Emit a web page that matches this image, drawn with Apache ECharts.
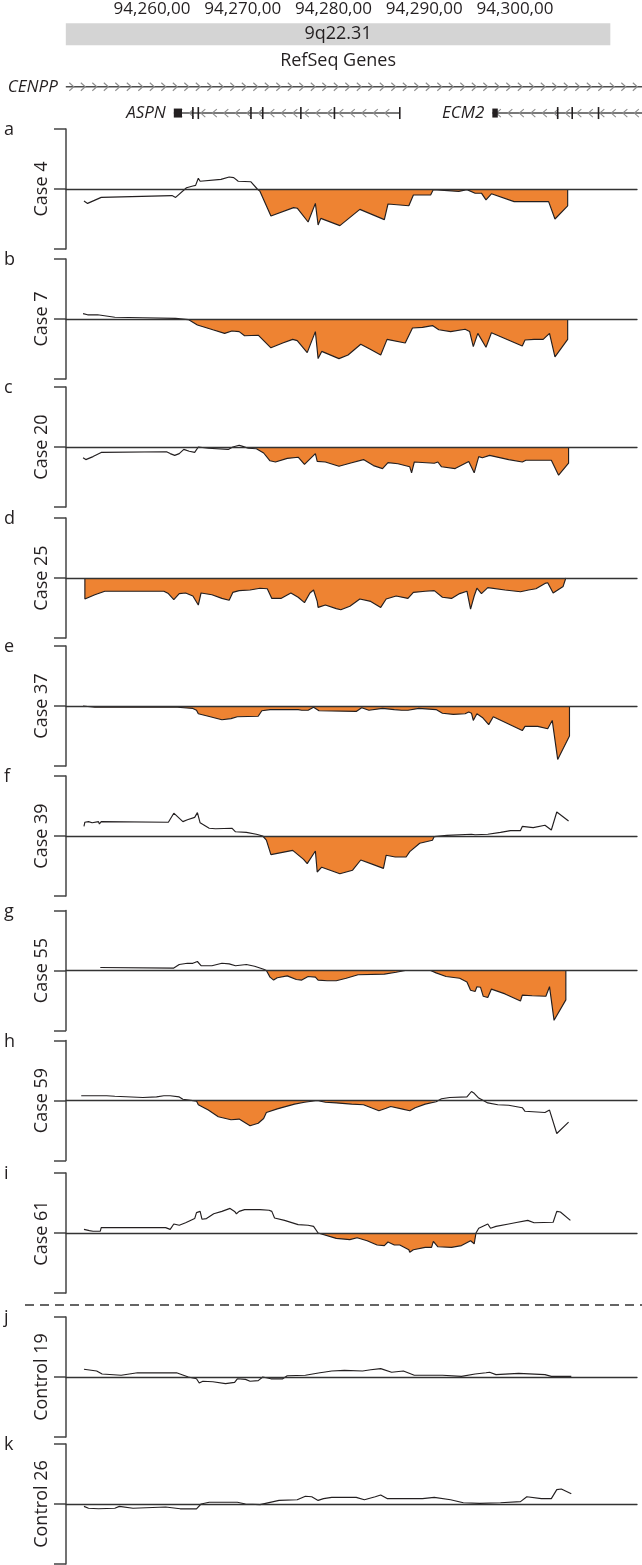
<!DOCTYPE html>
<html><head><meta charset="utf-8">
<script src="https://cdn.jsdelivr.net/npm/echarts@6/dist/echarts.min.js"></script>
<style>html,body{margin:0;padding:0;background:#fff}#c{width:642px;height:1565px}</style>
</head><body><div id="c"></div>
<script>
// ---------- axis / ticks ----------
const X_MIN = 94250.52, X_MAX = 94313.44;           // kb
const tickValues = [94260, 94270, 94280, 94290, 94300];
const tickLabels = ['94,260,00', '94,270,00', '94,280,00', '94,290,00', '94,300,00'];

// ---------- ideogram band + gene track ----------
const bandName = '9q22.31';
const bandRange = [94250.5, 94310.5];
const trackTitle = 'RefSeq Genes';
const trackRows = ['band', 'title', 'CENPP', 'ASPN/ECM2'];
const geneNames = ['CENPP', 'ASPN', 'ECM2'];
const geneStarts = [94250.5, 94262.4, 94297.5];
const geneEnds = [94314.0, 94287.3, 94314.0];
const geneStrands = ['+', '-', '-'];
const geneRows = [2, 3, 3];
const geneFirstExon = [null, [94262.4, 94263.3], [94297.5, 94298.1]];
const geneExonMarks = [[], [94264.5, 94265.1, 94270.9, 94272.2, 94276.4, 94280.1, 94287.3], [94304.7, 94306.3, 94309.2]];

// ---------- panels ----------
const panelLetters = ['a','b','c','d','e','f','g','h','i','j','k'];
const panelNames = ['Case 4','Case 7','Case 20','Case 25','Case 37','Case 39','Case 55','Case 59','Case 61','Control 19','Control 26'];

const case4 = [[94252.5,-0.20],[94252.9,-0.24],[94254.4,-0.14],[94262.2,-0.11],[94262.6,-0.14],[94263.8,0.02],[94264.5,0.05],[94264.8,0.06],[94265.1,0.18],[94265.3,0.13],[94267.6,0.16],[94268.5,0.20],[94269.0,0.19],[94269.5,0.13],[94270.9,0.12],[94271.6,0.0],[94271.9,-0.04],[94273.1,-0.45],[94275.6,-0.31],[94276.0,-0.32],[94277.2,-0.55],[94278.0,-0.24],[94278.3,-0.60],[94278.6,-0.49],[94280.7,-0.61],[94282.9,-0.34],[94285.6,-0.51],[94286.0,-0.25],[94288.3,-0.28],[94288.8,-0.10],[94290.7,-0.10],[94291.0,-0.01],[94293.8,-0.04],[94294.7,-0.01],[94295.6,-0.07],[94296.3,-0.07],[94296.8,-0.18],[94297.4,-0.08],[94299.9,-0.21],[94303.7,-0.21],[94304.4,-0.50],[94305.8,-0.28],[94305.8,0]];
const case7 = [[94252.4,0.09],[94252.9,0.07],[94254.0,0.07],[94255.9,0.03],[94259.0,0.02],[94262.6,0.01],[94264.0,-0.01],[94265.0,-0.10],[94266.7,-0.18],[94268.0,-0.24],[94268.8,-0.20],[94269.6,-0.21],[94270.2,-0.28],[94271.7,-0.27],[94273.1,-0.48],[94274.4,-0.40],[94275.5,-0.34],[94276.0,-0.36],[94277.1,-0.56],[94278.0,-0.21],[94278.3,-0.66],[94278.7,-0.54],[94280.6,-0.66],[94281.6,-0.60],[94283.0,-0.42],[94284.1,-0.51],[94285.2,-0.60],[94285.9,-0.34],[94287.9,-0.40],[94288.7,-0.15],[94289.8,-0.14],[94290.9,-0.11],[94291.6,-0.18],[94292.9,-0.21],[94294.5,-0.17],[94295.0,-0.21],[94295.4,-0.46],[94295.9,-0.24],[94296.8,-0.47],[94297.4,-0.23],[94300.8,-0.45],[94301.1,-0.35],[94302.1,-0.34],[94303.1,-0.34],[94303.8,-0.24],[94304.4,-0.63],[94305.8,-0.34],[94305.8,0]];
const case20 = [[94252.4,-0.18],[94252.7,-0.21],[94253.5,-0.16],[94254.4,-0.09],[94261.6,-0.08],[94262.0,-0.11],[94262.5,-0.14],[94263.0,-0.11],[94263.5,-0.04],[94264.1,-0.07],[94264.7,-0.09],[94265.1,0],[94266.2,-0.02],[94268.4,-0.04],[94268.9,0],[94269.6,0.03],[94270.0,0.01],[94270.6,-0.02],[94271.5,-0.03],[94272.3,-0.10],[94273.0,-0.23],[94273.6,-0.25],[94274.9,-0.19],[94276.1,-0.17],[94276.8,-0.29],[94278.0,-0.11],[94278.2,-0.24],[94279.1,-0.25],[94280.6,-0.32],[94281.8,-0.27],[94283.3,-0.21],[94284.4,-0.31],[94285.4,-0.36],[94286.0,-0.26],[94287.1,-0.28],[94288.4,-0.33],[94288.6,-0.43],[94288.9,-0.25],[94291.1,-0.27],[94291.5,-0.25],[94291.9,-0.33],[94293.4,-0.36],[94294.9,-0.24],[94295.5,-0.43],[94296.0,-0.16],[94296.4,-0.18],[94297.2,-0.14],[94299.3,-0.21],[94300.8,-0.25],[94301.2,-0.22],[94304.0,-0.22],[94304.8,-0.47],[94305.9,-0.27],[94305.9,0]];
const case25 = [[94252.6,0],[94252.6,-0.35],[94253.7,-0.28],[94254.8,-0.22],[94261.3,-0.22],[94261.8,-0.26],[94262.4,-0.36],[94263.0,-0.26],[94263.7,-0.25],[94264.5,-0.30],[94265.1,-0.45],[94265.4,-0.25],[94266.6,-0.28],[94267.7,-0.34],[94268.5,-0.37],[94268.9,-0.24],[94269.6,-0.21],[94270.8,-0.20],[94271.9,-0.17],[94272.7,-0.18],[94273.2,-0.34],[94274.2,-0.34],[94275.3,-0.25],[94276.1,-0.32],[94276.8,-0.41],[94277.4,-0.25],[94277.8,-0.20],[94278.2,-0.39],[94278.3,-0.49],[94279.1,-0.45],[94280.3,-0.51],[94280.8,-0.53],[94281.8,-0.47],[94282.9,-0.35],[94284.1,-0.39],[94285.2,-0.49],[94285.8,-0.35],[94286.9,-0.30],[94288.2,-0.34],[94288.8,-0.24],[94290.1,-0.22],[94291.1,-0.21],[94292.0,-0.32],[94293.0,-0.34],[94293.9,-0.26],[94294.7,-0.22],[94295.1,-0.52],[94295.5,-0.30],[94295.8,-0.17],[94296.3,-0.26],[94297.0,-0.16],[94298.9,-0.20],[94300.6,-0.23],[94301.5,-0.20],[94302.3,-0.18],[94303.3,-0.09],[94303.6,-0.08],[94304.2,-0.25],[94305.3,-0.14],[94305.6,0]];
const case37 = [[94252.4,0],[94252.5,-0.02],[94253.7,-0.02],[94262.8,-0.02],[94264.5,-0.04],[94264.9,-0.07],[94265.1,-0.13],[94266.2,-0.17],[94267.7,-0.23],[94268.7,-0.21],[94269.4,-0.18],[94271.7,-0.17],[94272.1,-0.08],[94273.0,-0.06],[94276.1,-0.06],[94276.5,-0.07],[94277.2,-0.07],[94277.8,-0.02],[94278.4,-0.08],[94282.5,-0.09],[94283.1,-0.03],[94283.9,-0.07],[94285.4,-0.04],[94286.7,-0.06],[94287.5,-0.07],[94288.2,-0.07],[94289.4,-0.04],[94291.3,-0.06],[94292.0,-0.12],[94293.2,-0.14],[94294.5,-0.13],[94294.9,-0.10],[94295.2,-0.12],[94295.4,-0.24],[94295.8,-0.13],[94296.4,-0.19],[94297.1,-0.31],[94297.6,-0.18],[94300.8,-0.41],[94301.1,-0.34],[94302.5,-0.34],[94303.6,-0.38],[94304.1,-0.24],[94304.7,-0.89],[94306.0,-0.50],[94306.0,0]];
const case39 = [[94252.5,0.16],[94252.6,0.23],[94253.0,0.24],[94253.4,0.22],[94254.1,0.24],[94254.2,0.20],[94254.4,0.24],[94261.8,0.23],[94262.4,0.38],[94263.4,0.24],[94263.9,0.27],[94264.7,0.31],[94265.0,0.39],[94265.3,0.22],[94266.3,0.13],[94267.0,0.12],[94268.8,0.13],[94269.2,0.07],[94270.4,0.06],[94270.6,0.03],[94271.5,0.03],[94272.2,0],[94272.6,-0.07],[94273.1,-0.31],[94275.5,-0.24],[94276.7,-0.39],[94277.1,-0.46],[94278.0,-0.25],[94278.2,-0.60],[94278.7,-0.52],[94280.7,-0.63],[94282.1,-0.57],[94283.0,-0.40],[94284.1,-0.46],[94285.5,-0.54],[94285.8,-0.32],[94286.8,-0.35],[94288.0,-0.35],[94288.4,-0.26],[94289.5,-0.12],[94290.9,-0.07],[94291.1,-0.01],[94292.5,0.01],[94295.2,0.03],[94295.4,0.06],[94295.6,0.02],[94297.0,0.03],[94298.4,0.06],[94299.5,0.09],[94300.6,0.09],[94300.8,0.16],[94302.0,0.14],[94303.3,0.18],[94304.0,0.10],[94304.6,0.40],[94305.9,0.25]];
const case55 = [[94254.3,0.05],[94262.4,0.04],[94263.0,0.10],[94263.9,0.12],[94264.5,0.12],[94265.0,0.15],[94265.4,0.08],[94266.6,0.08],[94267.7,0.12],[94268.5,0.11],[94269.2,0.08],[94270.4,0.10],[94271.3,0.07],[94272.3,0.02],[94272.6,0],[94273.0,-0.11],[94273.4,-0.16],[94273.8,-0.12],[94274.9,-0.09],[94275.9,-0.15],[94276.5,-0.16],[94277.2,-0.10],[94278.0,-0.11],[94278.3,-0.16],[94279.3,-0.17],[94280.3,-0.17],[94281.4,-0.13],[94282.7,-0.07],[94285.6,-0.06],[94286.9,-0.03],[94287.9,0],[94290.7,0],[94291.3,-0.04],[94292.4,-0.10],[94293.9,-0.13],[94294.7,-0.19],[94295.1,-0.33],[94295.6,-0.35],[94295.8,-0.27],[94296.2,-0.28],[94296.5,-0.43],[94297.0,-0.45],[94297.4,-0.31],[94298.9,-0.39],[94300.6,-0.51],[94300.8,-0.41],[94301.9,-0.42],[94303.4,-0.43],[94303.8,-0.27],[94304.3,-0.83],[94305.6,-0.49],[94305.6,0]];
const case59 = [[94252.2,0.08],[94255.0,0.08],[94255.9,0.07],[94259.0,0.05],[94260.5,0.06],[94261.3,0.08],[94262.0,0.08],[94263.0,0.06],[94263.4,0.02],[94264.9,-0.01],[94265.1,-0.07],[94266.2,-0.16],[94267.3,-0.27],[94268.7,-0.32],[94269.6,-0.31],[94270.8,-0.42],[94271.7,-0.38],[94272.3,-0.30],[94272.6,-0.20],[94273.8,-0.14],[94275.7,-0.06],[94276.8,-0.03],[94278.2,0],[94279.1,-0.03],[94280.3,-0.04],[94282.0,-0.06],[94283.3,-0.07],[94284.3,-0.13],[94285.0,-0.17],[94285.8,-0.13],[94286.3,-0.10],[94287.5,-0.14],[94288.4,-0.17],[94289.0,-0.12],[94290.1,-0.06],[94291.3,-0.02],[94291.9,0.03],[94292.8,0.05],[94294.7,0.06],[94295.2,0.15],[94295.5,0.12],[94296.0,0.04],[94297.0,-0.04],[94298.1,-0.07],[94299.3,-0.08],[94300.8,-0.12],[94301.1,-0.18],[94303.3,-0.20],[94303.8,-0.16],[94304.6,-0.55],[94305.9,-0.36]];
const case61 = [[94252.5,0.06],[94253.1,0.04],[94253.5,0.03],[94254.3,0.03],[94254.4,0.09],[94257.5,0.09],[94261.5,0.09],[94262.0,0.06],[94262.4,0.15],[94263.0,0.13],[94263.7,0.17],[94264.7,0.24],[94264.9,0.34],[94265.3,0.36],[94265.5,0.23],[94266.0,0.24],[94266.8,0.32],[94267.7,0.36],[94268.6,0.41],[94269.1,0.36],[94269.3,0.32],[94269.6,0.36],[94270.2,0.39],[94271.9,0.39],[94272.9,0.38],[94273.2,0.36],[94273.5,0.25],[94274.6,0.21],[94276.1,0.14],[94277.2,0.13],[94277.8,0.11],[94278.3,0],[94278.4,-0.03],[94280.3,-0.09],[94281.8,-0.11],[94282.6,-0.08],[94283.7,-0.13],[94284.8,-0.20],[94285.6,-0.21],[94286.0,-0.15],[94286.7,-0.20],[94287.3,-0.20],[94288.3,-0.28],[94288.4,-0.32],[94288.8,-0.28],[94290.1,-0.24],[94290.8,-0.24],[94291.0,-0.14],[94291.5,-0.23],[94293.0,-0.24],[94294.1,-0.21],[94295.1,-0.13],[94295.5,-0.18],[94295.7,0],[94296.0,0.08],[94297.0,0.15],[94297.3,0.08],[94297.9,0.11],[94299.3,0.15],[94300.0,0.17],[94301.4,0.21],[94302.1,0.17],[94304.2,0.18],[94304.6,0.36],[94305.0,0.35],[94306.1,0.21]];
const control19 = [[94252.5,0.13],[94253.9,0.10],[94254.5,0.05],[94256.6,0.03],[94258.4,0.07],[94262.7,0.07],[94264.0,0],[94264.9,-0.03],[94265.2,-0.10],[94265.6,-0.07],[94266.7,-0.08],[94268.1,-0.11],[94269.1,-0.09],[94269.4,-0.03],[94270.3,-0.04],[94270.8,-0.07],[94271.7,-0.06],[94272.2,0],[94273.1,-0.03],[94274.4,-0.03],[94274.9,0.02],[94276.9,0.03],[94278.5,0.07],[94278.9,0.08],[94279.8,0.10],[94281.2,0.11],[94283.2,0.10],[94284.1,0.12],[94285.2,0.14],[94286.4,0.08],[94287.7,0.10],[94288.9,0.03],[94292.0,0.03],[94294.1,0.01],[94295.6,0.05],[94296.8,0.07],[94297.2,0.08],[94297.9,0.04],[94300.4,0.06],[94303.3,0.04],[94304.0,0.01],[94306.2,0.01]];
const control26 = [[94252.5,-0.04],[94253.0,-0.07],[94254.1,-0.08],[94255.9,-0.07],[94256.4,-0.04],[94257.9,-0.07],[94261.5,-0.05],[94263.1,-0.08],[94264.9,-0.08],[94265.4,0],[94266.3,0.03],[94269.4,0.03],[94270.3,0],[94271.9,-0.01],[94274.0,0.06],[94276.0,0.07],[94276.9,0.13],[94277.6,0.12],[94278.3,0.06],[94278.9,0.09],[94279.8,0.11],[94282.5,0.11],[94283.4,0.07],[94284.6,0.12],[94285.2,0.15],[94285.9,0.09],[94289.8,0.09],[94291.1,0.11],[94292.9,0.07],[94294.3,0.02],[94296.1,0.01],[94298.4,0.02],[94300.6,0.04],[94301.3,0.12],[94302.9,0.09],[94304.0,0.09],[94304.6,0.24],[94305.1,0.25],[94306.2,0.17]];

// called deletion segments (filled), [start, end] in kb, null = none
const fillSegments = [[94271.6,94305.8],[94264.0,94305.8],[94271.5,94305.9],[94252.6,94305.6],[94252.4,94306.0],[94272.2,94291.1],[94272.6,94305.6],[94264.9,94291.3],[94278.3,94295.7],null,null];

const panelData = [case4, case7, case20, case25, case37, case39, case55, case59, case61, control19, control26];

// ---------- layout / style (not data) ----------
const FONT = '"Open Sans", "Noto Sans", sans-serif';
const INK = '#231f20';
const ORANGE = '#EE8332';
const baselines = [189, 319, 447, 578, 706, 836, 970.5, 1100.5, 1233, 1377, 1504];
const HALF = 60;
const GL = 66, GR = 5;

const grids = [{left: GL, right: GR, top: 21, height: 105.2}];
const xAxes = [{
  gridIndex: 0, type: 'value', position: 'top', min: X_MIN, max: X_MAX,
  axisLine: {show: false}, axisTick: {show: false}, splitLine: {show: false},
  axisLabel: {customValues: tickValues, formatter: v => tickLabels[tickValues.indexOf(v)],
    fontSize: 17, color: INK, fontFamily: FONT, margin: 3}
}];
const yAxes = [{gridIndex: 0, type: 'category', data: trackRows, inverse: true, show: false}];
const series = [];
const titles = [];

series.push({
  type: 'custom', xAxisIndex: 0, yAxisIndex: 0, silent: true, clip: false,
  data: [[bandRange[0], bandRange[1], 0]],
  encode: {x: [0, 1], y: 2},
  renderItem(params, api) {
    const s = api.coord([api.value(0), 0]);
    const e = api.coord([api.value(1), 0]);
    const t = api.coord([api.value(0), 1]);
    const h = 22;
    return {type: 'group', children: [
      {type: 'rect', shape: {x: s[0], y: s[1] - h / 2, width: e[0] - s[0], height: h}, style: {fill: '#d4d4d4'}},
      {type: 'text', x: (s[0] + e[0]) / 2, y: s[1], style: {text: bandName, font: '18px ' + FONT, fill: INK, align: 'center', verticalAlign: 'middle'}},
      {type: 'text', x: (s[0] + e[0]) / 2, y: t[1], style: {text: trackTitle, font: '18px ' + FONT, fill: INK, align: 'center', verticalAlign: 'middle'}}
    ]};
  }
});

series.push({
  type: 'custom', xAxisIndex: 0, yAxisIndex: 0, silent: true, clip: false,
  data: geneNames.map((n, i) => [geneStarts[i], geneEnds[i], geneRows[i]]),
  encode: {x: [0, 1], y: 2},
  renderItem(params, api) {
    const i = params.dataIndex;
    const row = api.value(2);
    const s = api.coord([api.value(0), row]);
    const e = api.coord([api.value(1), row]);
    const y = s[1];
    const ch = [];
    ch.push({type: 'line', shape: {x1: s[0], y1: y, x2: e[0], y2: y}, style: {stroke: '#4d4d4d', lineWidth: 1.6}});
    const dir = geneStrands[i] === '+' ? 1 : -1;
    for (let x = s[0] + 6; x < e[0] - 3; x += 11.5) {
      ch.push({type: 'polyline', shape: {points: [[x - 2.5 * dir, y - 4], [x + 2 * dir, y], [x - 2.5 * dir, y + 4]]},
        style: {stroke: '#8c8c8c', fill: 'none', lineWidth: 1.1}});
    }
    geneExonMarks[i].forEach(v => {
      const p = api.coord([v, row]);
      ch.push({type: 'line', shape: {x1: p[0], y1: y - 6, x2: p[0], y2: y + 6}, style: {stroke: INK, lineWidth: 1.6}});
    });
    if (geneFirstExon[i]) {
      const a = api.coord([geneFirstExon[i][0], row]);
      const b = api.coord([geneFirstExon[i][1], row]);
      ch.push({type: 'rect', shape: {x: a[0], y: y - 4.5, width: b[0] - a[0], height: 9}, style: {fill: INK}});
    }
    ch.push({type: 'text', x: s[0] - 8, y: y, style: {text: geneNames[i], font: 'italic 17px ' + FONT, fill: INK, align: 'right', verticalAlign: 'middle'}});
    return {type: 'group', children: ch};
  }
});

panelData.forEach((data, i) => {
  const gi = i + 1;
  grids.push({left: GL, right: GR, top: baselines[i] - HALF, height: 2 * HALF});
  xAxes.push({
    gridIndex: gi, type: 'value', min: X_MIN, max: X_MAX, z: 5,
    axisLine: {onZero: true, lineStyle: {color: '#333', width: 1.3}},
    axisTick: {show: false}, axisLabel: {show: false}, splitLine: {show: false}
  });
  yAxes.push({
    gridIndex: gi, type: 'value', min: -1, max: 1, interval: 1,
    name: panelNames[i], nameLocation: 'middle', nameGap: 15, nameRotate: 90,
    nameTextStyle: {fontSize: 18, color: INK, fontFamily: FONT},
    axisLine: {show: true, onZero: false, lineStyle: {color: '#444', width: 1.5}},
    axisTick: {show: true, length: 12, lineStyle: {color: '#444', width: 1.5}},
    axisLabel: {show: false}, splitLine: {show: false}
  });
  const seg = fillSegments[i];
  if (seg) {
    series.push({
      type: 'line', xAxisIndex: gi, yAxisIndex: gi, silent: true, z: 1,
      symbol: 'none', lineStyle: {width: 0},
      areaStyle: {color: ORANGE, opacity: 1},
      data: data.filter(p => p[0] >= seg[0] && p[0] <= seg[1])
    });
  }
  series.push({
    type: 'line', xAxisIndex: gi, yAxisIndex: gi, silent: true, z: 3,
    symbol: 'none', lineStyle: {color: INK, width: 1.15},
    data: data
  });
  titles.push({
    text: panelLetters[i], left: 4, top: baselines[i] - HALF - 8, padding: 0,
    textStyle: {fontSize: 18, fontWeight: 'normal', color: INK, fontFamily: FONT}
  });
});

const chart = echarts.init(document.getElementById('c'));
chart.setOption({
  animation: false,
  backgroundColor: '#fff',
  textStyle: {fontFamily: FONT},
  title: titles,
  grid: grids,
  xAxis: xAxes,
  yAxis: yAxes,
  series: series,
  graphic: [{
    type: 'line', silent: true,
    shape: {x1: 25, y1: 1305, x2: 642, y2: 1305},
    style: {stroke: '#333', lineWidth: 1.5, lineDash: [9, 6]}
  }]
});
</script>
</body></html>
